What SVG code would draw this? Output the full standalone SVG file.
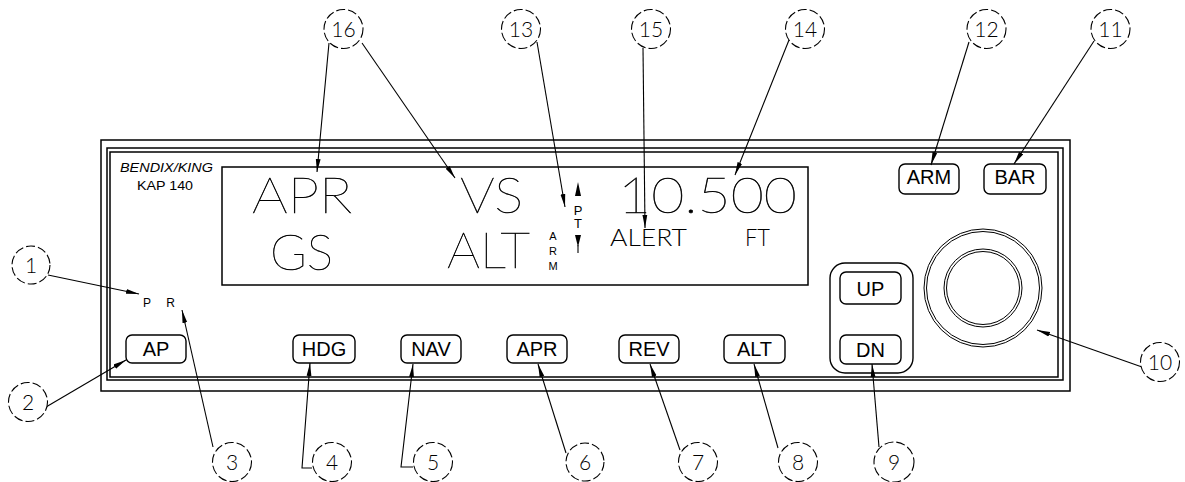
<svg xmlns="http://www.w3.org/2000/svg" width="1185" height="482" viewBox="0 0 1185 482">
<style>
.frame{fill:none;stroke:#000;stroke-width:1.5}
.btn{fill:none;stroke:#000;stroke-width:1.4}
.btxt{font-family:"Liberation Sans",Arial,sans-serif;font-size:20px;fill:#000;text-anchor:middle}
.big{font-family:Lato,"Liberation Sans",sans-serif;font-weight:100;fill:#000;stroke:#000;stroke-width:0.5}
.mid{font-family:Lato,"Liberation Sans",sans-serif;font-weight:300;fill:#000}
.small{font-family:"Liberation Sans",Arial,sans-serif;fill:#000}
.co{fill:#fff;stroke:#000;stroke-width:1.1;stroke-dasharray:9 3}
.cotxt{font-family:Lato,"Liberation Sans",sans-serif;font-weight:300;font-size:21px;fill:#000;text-anchor:middle}
.ld{fill:none;stroke:#000;stroke-width:1.1;marker-end:url(#ah)}
</style>
<defs>
<marker id="ah" markerUnits="userSpaceOnUse" markerWidth="14" markerHeight="6" refX="13" refY="3" orient="auto">
<path d="M0,0.6 L13,3 L0,5.4 Z" fill="#000"/>
</marker>
</defs>
<rect width="1185" height="482" fill="#fff"/>
<g id="panel">
<rect class="frame" x="101" y="140" width="969" height="251"/>
<rect class="frame" x="107" y="148" width="956" height="232"/>
<rect class="frame" x="110" y="152" width="948" height="225"/>
<text class="small" x="120" y="172" font-size="12" font-style="italic" textLength="93" lengthAdjust="spacingAndGlyphs">BENDIX/KING</text>
<text class="small" x="137" y="190" font-size="13" textLength="56" lengthAdjust="spacingAndGlyphs">KAP 140</text>
<text class="small" x="143" y="307" font-size="12" textLength="32" lengthAdjust="spacing">P R</text>
</g>
<g id="display">
<rect class="frame" x="222" y="167" width="586" height="118"/>
<text class="big" x="252" y="213" font-size="50" textLength="100" lengthAdjust="spacingAndGlyphs">APR</text>
<text class="big" x="460" y="213" font-size="50" textLength="63" lengthAdjust="spacingAndGlyphs">VS</text>
<text class="big" x="618" y="213" font-size="50" textLength="179" lengthAdjust="spacingAndGlyphs">10.500</text>
<text class="big" x="270" y="270" font-size="50" textLength="63" lengthAdjust="spacingAndGlyphs">GS</text>
<text class="big" x="447" y="268" font-size="50" textLength="83" lengthAdjust="spacingAndGlyphs">ALT</text>
<text class="mid" x="610" y="246" font-size="24" textLength="77" lengthAdjust="spacingAndGlyphs">ALERT</text>
<text class="mid" x="745" y="246" font-size="24" textLength="25" lengthAdjust="spacingAndGlyphs">FT</text>
<text class="small" font-size="11" text-anchor="middle"><tspan x="553" y="240">A</tspan><tspan x="553" y="255">R</tspan><tspan x="553" y="270">M</tspan></text>
<text class="small" font-size="13" text-anchor="middle"><tspan x="578" y="215">P</tspan><tspan x="578" y="228">T</tspan></text>
<path d="M578,182 L581,196 L575,196 Z" fill="#000"/>
<path d="M575,235 L581,235 L578,247 Z" fill="#000"/>
<line x1="578" y1="245" x2="578" y2="253" stroke="#000" stroke-width="1.1"/>
</g>
<g id="btn-ap"><rect class="btn" x="126" y="335" width="60" height="28" rx="6"/><text class="btxt" x="156" y="355.5">AP</text></g>
<g id="btn-hdg"><rect class="btn" x="293" y="335" width="62" height="28" rx="6"/><text class="btxt" x="324" y="355.5">HDG</text></g>
<g id="btn-nav"><rect class="btn" x="401" y="335" width="60" height="28" rx="6"/><text class="btxt" x="431" y="355.5">NAV</text></g>
<g id="btn-apr"><rect class="btn" x="507" y="335" width="60" height="28" rx="6"/><text class="btxt" x="537" y="355.5">APR</text></g>
<g id="btn-rev"><rect class="btn" x="619" y="335" width="60" height="28" rx="6"/><text class="btxt" x="649" y="355.5">REV</text></g>
<g id="btn-alt"><rect class="btn" x="724" y="335" width="61" height="28" rx="6"/><text class="btxt" x="754.5" y="355.5">ALT</text></g>
<g id="btn-arm"><rect class="btn" x="899" y="164" width="60" height="30" rx="6"/><text class="btxt" x="929" y="184">ARM</text></g>
<g id="btn-bar"><rect class="btn" x="984" y="164" width="62" height="30" rx="6"/><text class="btxt" x="1015" y="184">BAR</text></g>
<g id="updn">
<rect class="btn" x="830" y="263" width="83" height="110" rx="15"/>
<rect class="btn" x="840" y="272" width="61" height="32" rx="6"/><text class="btxt" x="870.5" y="296" font-size="21">UP</text>
<rect class="btn" x="840" y="335" width="61" height="29" rx="6"/><text class="btxt" x="870.5" y="357" font-size="21">DN</text>
</g>
<g id="knob" fill="none" stroke="#000" stroke-width="1">
<circle cx="983" cy="288" r="59"/>
<circle cx="983" cy="288" r="56.5"/>
<circle cx="983" cy="288" r="39"/>
<circle cx="983" cy="288" r="36.5"/>
</g>
<g id="connectors">
<line class="ld" x1="329" y1="43" x2="317" y2="172"/>
<line class="ld" x1="362" y1="43" x2="455" y2="178"/>
<line class="ld" x1="537" y1="42" x2="565" y2="207"/>
<line class="ld" x1="643" y1="48" x2="645" y2="228"/>
<line class="ld" x1="789" y1="40" x2="735" y2="175"/>
<line class="ld" x1="969" y1="42" x2="931" y2="165"/>
<line class="ld" x1="1094" y1="41" x2="1014" y2="164"/>
<line class="ld" x1="48" y1="275" x2="139" y2="294"/>
<line class="ld" x1="46" y1="407" x2="126" y2="360"/>
<line class="ld" x1="213" y1="447" x2="182" y2="310"/>
<polyline class="ld" points="312,468 302,468 310,363"/>
<polyline class="ld" points="413,467 401,467 413,364"/>
<line class="ld" x1="566" y1="453" x2="538" y2="364"/>
<line class="ld" x1="680" y1="450" x2="650" y2="364"/>
<line class="ld" x1="778" y1="448" x2="754" y2="364"/>
<line class="ld" x1="879" y1="447" x2="872" y2="364"/>
<line class="ld" x1="1142" y1="367" x2="1037" y2="330"/>
</g>
<g id="c16"><circle class="co" cx="343.5" cy="29" r="19.5"/><text class="cotxt" x="343.5" y="36.5">16</text></g>
<g id="c13"><circle class="co" cx="521" cy="29" r="19.5"/><text class="cotxt" x="521" y="36.5">13</text></g>
<g id="c15"><circle class="co" cx="651" cy="29" r="19.5"/><text class="cotxt" x="651" y="36.5">15</text></g>
<g id="c14"><circle class="co" cx="805" cy="29" r="19.5"/><text class="cotxt" x="805" y="36.5">14</text></g>
<g id="c12"><circle class="co" cx="986.5" cy="29" r="19.5"/><text class="cotxt" x="986.5" y="36.5">12</text></g>
<g id="c11"><circle class="co" cx="1110.5" cy="29" r="19.5"/><text class="cotxt" x="1110.5" y="36.5">11</text></g>
<g id="c1"><circle class="co" cx="31" cy="265" r="19"/><text class="cotxt" x="31" y="272.5">1</text></g>
<g id="c2"><circle class="co" cx="28" cy="402" r="19.5"/><text class="cotxt" x="28" y="409.5">2</text></g>
<g id="c3"><circle class="co" cx="232" cy="462" r="19.5"/><text class="cotxt" x="232" y="469.5">3</text></g>
<g id="c4"><circle class="co" cx="332" cy="462" r="19.5"/><text class="cotxt" x="332" y="469.5">4</text></g>
<g id="c5"><circle class="co" cx="433" cy="462" r="19.5"/><text class="cotxt" x="433" y="469.5">5</text></g>
<g id="c6"><circle class="co" cx="585" cy="462" r="19"/><text class="cotxt" x="585" y="469.5">6</text></g>
<g id="c7"><circle class="co" cx="698" cy="462" r="19.5"/><text class="cotxt" x="698" y="469.5">7</text></g>
<g id="c8"><circle class="co" cx="798" cy="462" r="19.5"/><text class="cotxt" x="798" y="469.5">8</text></g>
<g id="c9"><circle class="co" cx="894" cy="462" r="20"/><text class="cotxt" x="894" y="469.5">9</text></g>
<g id="c10"><circle class="co" cx="1160" cy="362" r="19.5"/><text class="cotxt" x="1160" y="369.5">10</text></g>
</svg>
